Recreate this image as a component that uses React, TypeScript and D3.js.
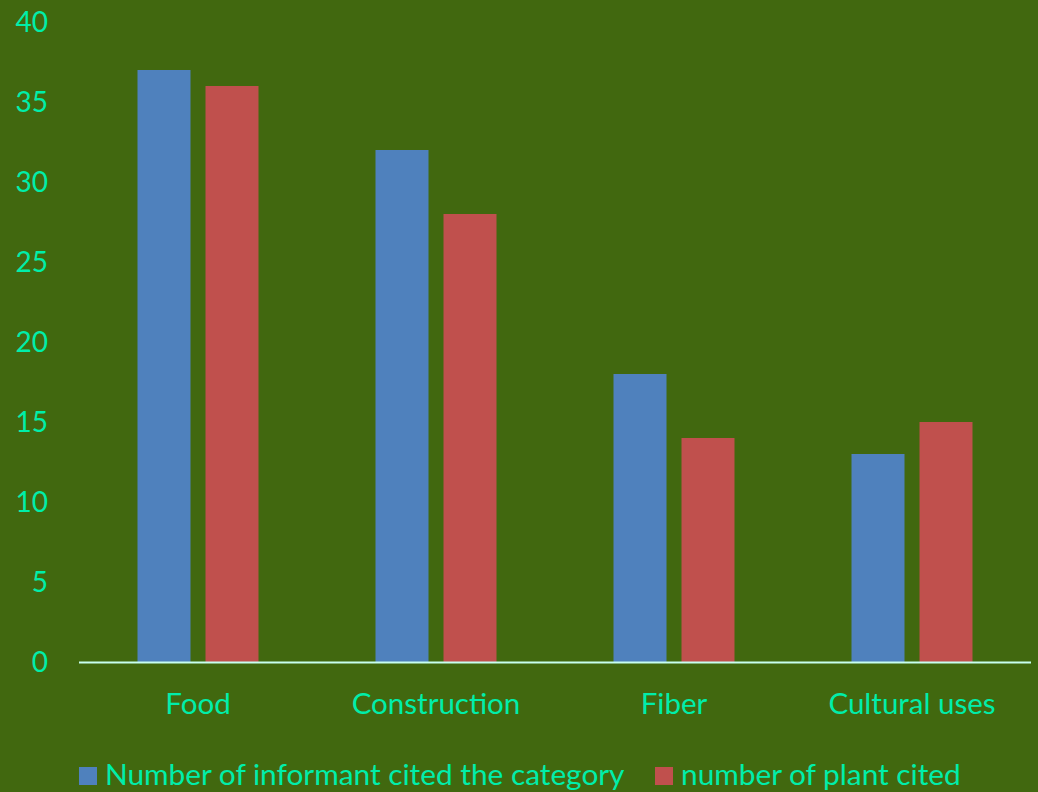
import React from "react";
import * as d3 from "d3";

const categories = ["Food", "Construction", "Fiber", "Cultural uses"];
const informants = [37, 32, 18, 13];
const plants = [36, 28, 14, 15];
const seriesNames = ["Number of informant cited the category", "number of plant cited"];
const yTicks = [0, 5, 10, 15, 20, 25, 30, 35, 40];

const W = 1038;
const H = 792;
const BG = "#41680f";
const TXT = "#00eeaa";
const COLORS = ["#4f81bd", "#c0504d"];
const FONT = "Lato, 'Open Sans', sans-serif";

export default function App() {
  const left = 79;
  const right = 1031;
  const top = 22;
  const bottom = 662;
  const x = d3.scaleBand<string>().domain(categories).range([left, right]).paddingInner(0).paddingOuter(0);
  const y = d3.scaleLinear().domain([0, 40]).range([bottom, top]);
  const barW = 53;
  const gap = 15;
  const series = [informants, plants];
  return (
    <svg width={W} height={H} style={{ position: "absolute", left: 0, top: 0, display: "block" }}>
      <rect x={0} y={0} width={W} height={H} fill={BG} />
      {yTicks.map((t) => (
        <text key={t} x={48} y={y(t)} dy="0.35em" textAnchor="end" fill={TXT} fontFamily={FONT} fontSize={28}>
          {t}
        </text>
      ))}
      {categories.map((c, i) => {
        const cx = (x(c) as number) + x.bandwidth() / 2;
        return (
          <g key={c}>
            {series.map((s, j) => {
              const bx = j === 0 ? cx - gap / 2 - barW : cx + gap / 2;
              return (
                <rect key={j} x={bx} y={y(s[i])} width={barW} height={bottom - y(s[i])} fill={COLORS[j]} />
              );
            })}
            <text x={cx} y={714} textAnchor="middle" fill={TXT} fontFamily={FONT} fontSize={29.5}>
              {c}
            </text>
          </g>
        );
      })}
      <line x1={left} x2={right} y1={bottom + 0.5} y2={bottom + 0.5} stroke="#c8fff0" strokeWidth={2} />
      <rect x={79} y={767} width={18} height={18} fill={COLORS[0]} />
      <text x={105} y={785} fill={TXT} fontFamily={FONT} fontSize={29.8}>{seriesNames[0]}</text>
      <rect x={655} y={767} width={18} height={18} fill={COLORS[1]} />
      <text x={681} y={785} fill={TXT} fontFamily={FONT} fontSize={29.8}>{seriesNames[1]}</text>
    </svg>
  );
}
